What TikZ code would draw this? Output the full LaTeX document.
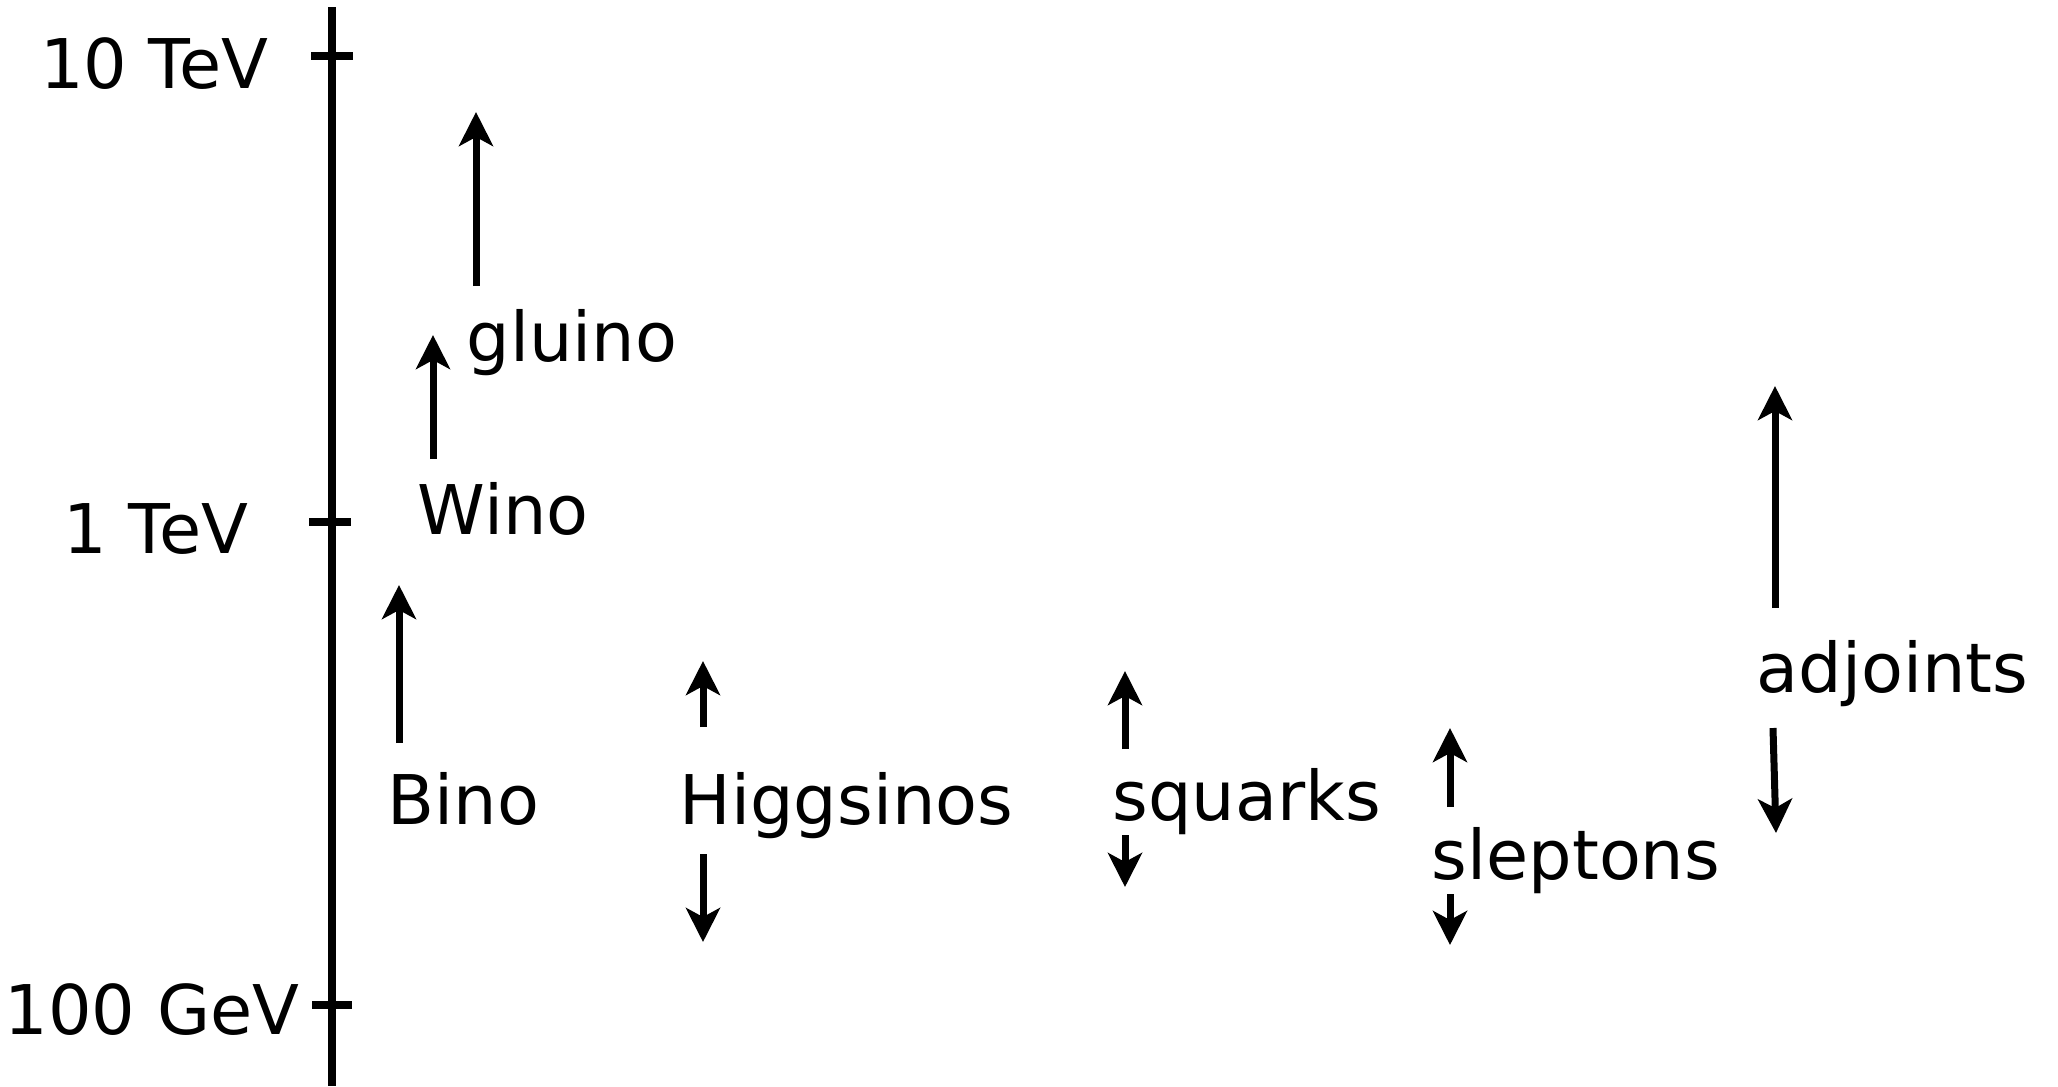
\documentclass[tikz,border=0pt]{standalone}
\usepackage{fontspec}
\setmainfont{DejaVu Sans}
\usetikzlibrary{arrows.meta}
\begin{document}
\begin{tikzpicture}[x=0.1mm,y=-0.1mm,
  lbl/.style={inner sep=0pt,font=\fontsize{19.5}{22}\selectfont},
  axisline/.style={line width=0.8mm},
  ticks/.style={line width=0.8mm},
  arr/.style={line width=0.7mm,-{Stealth[length=3.4mm,width=3.4mm,inset=0.9mm]}}]
\useasboundingbox (0,0) rectangle (2058,1086);
% axis
\coordinate (atop) at (332,7);
\coordinate (abot) at (332,1086);
\draw[axisline] (atop) -- (abot);
\coordinate (t10a) at (311,56); \coordinate (t10b) at (353,56);
\coordinate (t1a) at (309,522); \coordinate (t1b) at (351,522);
\coordinate (t100a) at (312,1005); \coordinate (t100b) at (352,1005);
\draw[ticks] (t10a) -- (t10b);
\draw[ticks] (t1a) -- (t1b);
\draw[ticks] (t100a) -- (t100b);
% axis labels
\node[lbl,anchor=base east] (l10) at (269,88) {10 TeV};
\node[lbl,anchor=base east] (l1) at (249,553) {1 TeV};
\node[lbl,anchor=base east] (l100) at (300,1034) {100 GeV};
% particle labels
\node[lbl,anchor=base west] (gluino) at (466,361) {gluino};
\node[lbl,anchor=base west] (wino) at (417,534) {Wino};
\node[lbl,anchor=base west] (bino) at (387,824) {Bino};
\node[lbl,anchor=base west] (higgs) at (679,824) {Higgsinos};
\node[lbl,anchor=base west] (squarks) at (1112,820) {squarks};
\node[lbl,anchor=base west] (sleptons) at (1431,879) {sleptons};
\node[lbl,anchor=base west] (adj) at (1756,692) {adjoints};
% arrow end points
\coordinate (g0) at (476,286); \coordinate (g1) at (476,112);
\coordinate (w0) at (433,459); \coordinate (w1) at (433,335);
\coordinate (b0) at (399,743); \coordinate (b1) at (399,585);
\coordinate (hu0) at (703,727); \coordinate (hu1) at (703,661);
\coordinate (hd0) at (703,854); \coordinate (hd1) at (703,942);
\coordinate (su0) at (1125,749); \coordinate (su1) at (1125,671);
\coordinate (sd0) at (1125,835); \coordinate (sd1) at (1125,887);
\coordinate (lu0) at (1450,807); \coordinate (lu1) at (1450,728);
\coordinate (ld0) at (1450,894); \coordinate (ld1) at (1450,945);
\coordinate (au0) at (1775,608); \coordinate (au1) at (1775,386);
\coordinate (ad0) at (1773,728); \coordinate (ad1) at (1776,833);
\draw[arr] (g0) -- (g1);
\draw[arr] (w0) -- (w1);
\draw[arr] (b0) -- (b1);
\draw[arr] (hu0) -- (hu1);
\draw[arr] (hd0) -- (hd1);
\draw[arr] (su0) -- (su1);
\draw[arr] (sd0) -- (sd1);
\draw[arr] (lu0) -- (lu1);
\draw[arr] (ld0) -- (ld1);
\draw[arr] (au0) -- (au1);
\draw[arr] (ad0) -- (ad1);
\end{tikzpicture}
\end{document}
